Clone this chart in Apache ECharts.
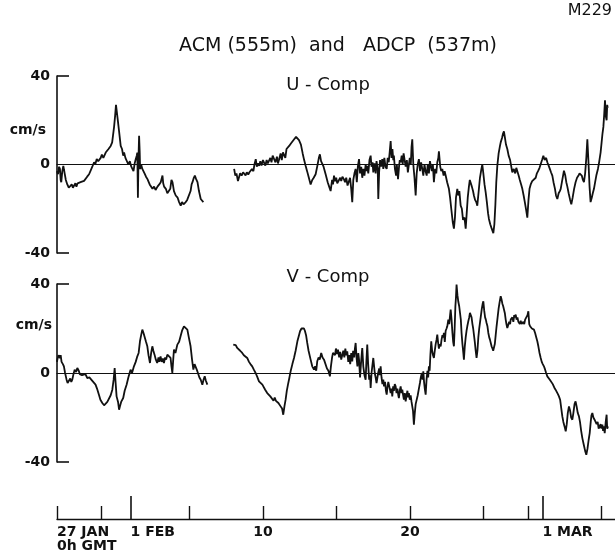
<!DOCTYPE html>
<html>
<head>
<meta charset="utf-8">
<script src="https://cdn.jsdelivr.net/npm/echarts@6/dist/echarts.min.js"></script>
<style>
  html, body { margin: 0; padding: 0; background: #fff; }
  #main { width: 615px; height: 553px; }
</style>
</head>
<body>
<div id="main"></div>
<script>
// time in days after 27 JAN 0h GMT, speed in cm/s
const uPart1 = [[0.0,-3],[0.07,-4.4],[0.14,-1],[0.2,-2],[0.25,-7],[0.29,-8],[0.36,-3],[0.43,-0.6],[0.48,-2.5],[0.52,-4],[0.6,-7],[0.7,-9],[0.8,-10.5],[0.93,-11],[1.0,-9],[1.08,-10.5],[1.16,-9.6],[1.25,-8.5],[1.32,-10],[1.4,-8.5],[1.5,-9],[1.6,-8],[1.7,-8.8],[1.84,-7.4],[1.95,-6.5],[2.05,-5.5],[2.18,-4.4],[2.3,-2.5],[2.4,-1],[2.52,1],[2.6,0],[2.7,2.5],[2.8,1.5],[2.97,3],[3.05,4.5],[3.15,3],[3.31,5.4],[3.4,4.5],[3.5,7],[3.65,8.4],[3.75,10],[3.88,17],[3.95,22],[4.01,27],[4.08,23],[4.15,19],[4.22,15],[4.33,8.4],[4.42,7],[4.5,4],[4.56,5.4],[4.65,3],[4.78,2.4],[4.85,0],[4.95,1.5],[5.05,-1],[5.12,-0.6],[5.2,-3],[5.28,0.5],[5.35,2.4],[5.42,4],[5.46,5.4],[5.5,-15],[5.54,3],[5.58,13],[5.62,6],[5.65,-2],[5.72,0],[5.8,-2],[5.95,-4],[6.05,-5.5],[6.15,-6.6],[6.3,-9],[6.49,-11],[6.6,-10],[6.7,-11.5],[6.83,-10],[6.95,-9],[7.05,-8],[7.17,-5],[7.22,-8.5],[7.28,-10],[7.4,-11],[7.5,-13],[7.62,-13],[7.7,-11],[7.78,-7],[7.85,-8],[7.95,-12],[8.07,-14],[8.2,-15],[8.3,-17],[8.41,-18.6],[8.5,-17],[8.6,-18],[8.75,-17],[8.85,-16],[8.98,-15.6],[9.08,-12],[9.15,-9],[9.21,-8],[9.3,-6],[9.37,-5],[9.45,-6.5],[9.55,-8],[9.65,-12],[9.77,-15.6],[9.85,-15],[9.95,-17]];

const uPart2 = [[12.04,-2],[12.12,-5],[12.2,-4],[12.3,-7.5],[12.38,-7],[12.45,-4],[12.55,-5],[12.65,-3.5],[12.72,-4.4],[12.82,-5],[12.9,-3.5],[13.0,-4.5],[13.08,-3.5],[13.17,-4.4],[13.25,-2],[13.35,-3],[13.42,0],[13.51,2.4],[13.58,-1],[13.66,0.5],[13.74,-0.6],[13.82,1.5],[13.9,-0.5],[14.0,2],[14.08,1.6],[14.16,-0.5],[14.25,2],[14.33,0.5],[14.42,0],[14.5,3],[14.58,1],[14.66,4],[14.76,4],[14.85,1],[14.95,3.5],[15.02,0.5],[15.1,2.4],[15.2,5],[15.28,2],[15.36,5.5],[15.44,4.6],[15.52,3],[15.6,7],[15.7,6.5],[15.78,8.4],[15.9,9.5],[16.0,10],[16.12,11.4],[16.25,12.5],[16.35,13],[16.45,11],[16.58,9],[16.7,5],[16.8,2],[16.9,-0.6],[17.0,-3],[17.12,-6],[17.24,-9],[17.35,-7],[17.45,-6],[17.58,-4.4],[17.7,-0.5],[17.8,3],[17.87,4.6],[17.95,1.5],[18.03,2.4],[18.12,-1],[18.26,-4.4],[18.4,-8],[18.5,-10],[18.6,-12],[18.7,-7],[18.76,-9],[18.83,-5],[18.9,-7.5],[18.98,-6],[19.05,-8.5],[19.17,-8],[19.25,-6],[19.32,-7.5],[19.4,-5.5],[19.5,-6.6],[19.58,-8],[19.66,-6],[19.75,-9.5],[19.85,-9],[19.92,-6],[20.0,-11],[20.07,-17],[20.14,-7],[20.22,-4],[20.3,-2],[20.38,-8],[20.45,-1],[20.53,2.4],[20.6,-4],[20.68,-1],[20.75,-6],[20.82,-2],[20.9,-5],[20.98,0],[21.05,-3],[21.09,-0.6],[21.16,-4],[21.24,2],[21.32,4],[21.38,-1],[21.45,1],[21.5,-3.6],[21.58,0.5],[21.66,-4],[21.72,1.5],[21.8,-2],[21.84,-15.6],[21.9,-3],[21.96,2],[22.03,-1],[22.11,2.4],[22.18,-2],[22.25,3],[22.33,-1],[22.41,-2],[22.48,3],[22.55,1],[22.62,6],[22.68,10.6],[22.74,3],[22.8,7],[22.86,2],[22.9,4],[22.97,-2],[23.05,-5],[23.1,0],[23.18,-6.6],[23.25,-1],[23.3,2],[23.36,1],[23.43,4],[23.5,0],[23.56,5],[23.63,5.4],[23.7,-1],[23.78,2],[23.85,-3.6],[23.92,-3.6],[23.98,3],[24.05,0],[24.1,8],[24.15,11.4],[24.22,0],[24.3,-6],[24.38,-14],[24.45,-4],[24.52,0],[24.6,2.4],[24.68,-3],[24.75,1],[24.83,-2],[24.9,-5],[24.98,0],[25.05,-3],[25.13,-5],[25.2,0],[25.28,-4],[25.35,1.5],[25.4,2.4],[25.48,-3],[25.55,0],[25.62,-8],[25.7,-2],[25.78,-4],[25.85,1],[25.92,3],[25.96,6],[26.05,-1],[26.12,-3],[26.19,-2],[26.28,-5],[26.35,-3],[26.42,-5],[26.52,-8],[26.64,-11],[26.72,-15],[26.8,-20],[26.9,-26],[26.98,-29],[27.05,-24],[27.12,-15],[27.21,-11],[27.28,-14],[27.35,-12],[27.44,-18.6],[27.52,-20],[27.6,-25],[27.7,-24],[27.78,-29],[27.85,-22],[27.92,-15],[28.0,-10],[28.06,-7],[28.12,-6.6],[28.2,-10],[28.28,-12],[28.34,-14],[28.42,-16],[28.5,-17],[28.57,-18.6],[28.65,-13],[28.75,-6],[28.85,-2],[28.91,0],[28.98,-4],[29.06,-9],[29.14,-12.6],[29.22,-17],[29.3,-22],[29.36,-24.6],[29.45,-27],[29.55,-29],[29.66,-31],[29.73,-27],[29.8,-18],[29.86,-8],[29.93,-0.6],[30.02,5],[30.1,8],[30.16,10],[30.25,12],[30.32,14],[30.38,15],[30.45,12],[30.52,9],[30.61,7],[30.7,4],[30.8,2],[30.88,-1],[30.95,-3.6],[31.05,-2],[31.15,-4],[31.22,-1.5],[31.29,-2],[31.38,-5],[31.46,-7],[31.55,-9],[31.63,-11],[31.72,-14],[31.8,-17],[31.9,-21],[31.97,-24],[32.05,-16],[32.12,-11],[32.2,-9],[32.3,-7.5],[32.42,-7],[32.54,-6],[32.62,-4],[32.7,-3],[32.8,-1.5],[32.88,-0.6],[32.97,2],[33.06,4],[33.15,2],[33.25,3],[33.33,1],[33.42,-0.5],[33.5,-2],[33.58,-3.5],[33.67,-5],[33.75,-8],[33.85,-11],[33.92,-14],[34.01,-15.6],[34.1,-13],[34.18,-12],[34.24,-11],[34.32,-8],[34.4,-5],[34.46,-2.8],[34.55,-5],[34.62,-8],[34.69,-10],[34.78,-13],[34.88,-16],[34.96,-18],[35.05,-15],[35.15,-11],[35.25,-8],[35.35,-6],[35.45,-5],[35.52,-4],[35.59,-3.6],[35.67,-5],[35.75,-7],[35.82,-8],[35.9,-4],[35.98,3],[36.05,11.4],[36.12,2],[36.2,-10],[36.27,-17],[36.35,-15],[36.42,-13],[36.5,-11],[36.58,-8],[36.66,-5],[36.77,-2],[36.85,1],[36.95,5.4],[37.02,10],[37.08,14],[37.14,17],[37.2,23],[37.25,29],[37.3,22],[37.36,20],[37.4,27],[37.43,25.6]];

const vPart1 = [[0.0,5],[0.02,6],[0.1,8],[0.2,6.75],[0.25,8],[0.31,5],[0.4,4],[0.47,3],[0.55,0],[0.65,-3],[0.72,-4.5],[0.81,-4.5],[0.9,-2.5],[0.97,-4],[1.04,-3],[1.12,-0.5],[1.2,1.5],[1.3,0.5],[1.38,2.25],[1.48,1],[1.55,-0.5],[1.61,0],[1.7,-1],[1.83,-1.5],[1.93,-0.5],[2.06,-2.25],[2.2,-2],[2.33,-3],[2.45,-3.5],[2.62,-5.25],[2.72,-7],[2.85,-9.75],[2.95,-12],[3.08,-13.5],[3.2,-14.5],[3.3,-14.25],[3.42,-13],[3.53,-12.75],[3.65,-10],[3.76,-7.5],[3.85,-3],[3.92,2.25],[3.98,-4],[4.05,-10.5],[4.15,-13],[4.22,-16.5],[4.28,-15],[4.36,-13],[4.5,-11.25],[4.6,-8],[4.73,-5.25],[4.85,-2],[5.0,1.5],[5.1,0],[5.23,3],[5.35,5],[5.46,7.5],[5.55,9],[5.64,14.25],[5.72,17],[5.8,19.5],[5.88,18],[5.96,17.25],[6.05,14],[6.14,12],[6.22,8],[6.32,4.5],[6.4,9],[6.48,12],[6.55,10],[6.63,8.25],[6.72,6],[6.81,4.5],[6.9,7],[6.96,5],[7.04,7.5],[7.12,5],[7.2,6.5],[7.27,4.5],[7.35,7],[7.42,6],[7.5,8.25],[7.6,7.5],[7.72,6.75],[7.78,3],[7.84,0],[7.9,6],[7.95,10.5],[8.05,9],[8.18,12.75],[8.3,14],[8.4,16.5],[8.5,19],[8.63,21],[8.75,20.5],[8.86,19.5],[8.96,16],[9.08,12],[9.18,6],[9.27,1.5],[9.35,4],[9.43,4.5],[9.5,1.5],[9.58,0],[9.68,-2],[9.77,-3],[9.88,-5.25],[9.96,-3],[10.04,-1.5],[10.12,-3.5],[10.22,-5.25]];

const vPart2 = [[11.98,12.75],[12.08,12],[12.15,12.5],[12.25,11.25],[12.35,10.5],[12.45,10],[12.59,9],[12.7,8],[12.8,7.5],[12.93,6.75],[13.05,5],[13.15,4],[13.27,3],[13.38,1.5],[13.5,0],[13.6,-1.5],[13.73,-3.75],[13.85,-4.5],[13.96,-5.25],[14.05,-6],[14.15,-7.5],[14.29,-9],[14.4,-9.5],[14.5,-10.5],[14.63,-11.25],[14.72,-12.5],[14.8,-11],[14.88,-12.5],[14.97,-12.75],[15.05,-13.5],[15.12,-14],[15.2,-15],[15.3,-16],[15.38,-18.75],[15.46,-15],[15.54,-12],[15.62,-8],[15.7,-5.25],[15.8,-2],[15.88,0.75],[16.0,4],[16.11,6.75],[16.22,10],[16.34,14.25],[16.45,17],[16.52,18.75],[16.62,20],[16.72,20.5],[16.79,20],[16.85,19],[16.93,17],[17.01,13.5],[17.1,10],[17.24,6],[17.35,3],[17.47,1.5],[17.55,3],[17.62,1],[17.69,5.25],[17.78,7],[17.86,6],[17.96,9],[18.05,7],[18.15,6],[18.26,5.25],[18.35,2],[18.45,1],[18.55,-1.5],[18.62,3],[18.7,7],[18.76,9],[18.83,9.75],[18.9,8],[18.96,11],[19.03,8.5],[19.1,10.5],[19.18,7],[19.25,9.5],[19.32,6],[19.39,6.75],[19.46,10],[19.53,7],[19.6,11],[19.66,8],[19.73,9.75],[19.8,5],[19.86,8],[19.93,4],[20.0,9],[20.07,5.25],[20.13,10],[20.2,7],[20.25,11],[20.3,13.5],[20.36,7],[20.42,3],[20.48,9],[20.53,6],[20.6,-2],[20.66,4],[20.72,9],[20.75,11.25],[20.82,3],[20.9,-1],[20.98,-3],[21.03,5],[21.09,12.75],[21.15,4],[21.22,-3],[21.28,-1],[21.32,-6.75],[21.38,0],[21.45,4],[21.5,6.75],[21.55,6.75],[21.6,0],[21.66,-2],[21.72,-4.5],[21.77,-4.5],[21.83,0],[21.9,2],[21.95,-1],[22.0,3],[22.06,-2],[22.12,-5],[22.18,-3],[22.23,-6],[22.3,-4],[22.36,-8],[22.41,-9.75],[22.47,-6],[22.52,-4],[22.56,-4.5],[22.62,-7],[22.68,-9],[22.74,-7],[22.79,-10.5],[22.85,-6],[22.9,-8],[22.96,-5],[23.02,-6],[23.08,-9],[23.14,-7],[23.2,-10],[23.24,-11.25],[23.3,-8],[23.36,-6],[23.42,-9],[23.47,-7.5],[23.53,-10],[23.58,-12],[23.64,-9],[23.7,-12.75],[23.76,-10],[23.82,-8],[23.87,-11],[23.92,-9],[23.98,-12],[24.04,-10],[24.1,-13],[24.15,-13.5],[24.2,-17],[24.26,-23.25],[24.32,-18],[24.38,-14],[24.45,-13.5],[24.52,-10],[24.6,-7],[24.67,-4.5],[24.73,-2],[24.8,0],[24.85,-3],[24.9,0.75],[24.95,-4],[25.0,-7],[25.06,-9.75],[25.12,-3],[25.18,1],[25.23,-2],[25.28,3],[25.33,1],[25.38,8],[25.44,14.25],[25.5,10],[25.56,8],[25.62,6.75],[25.68,10],[25.74,13],[25.8,15],[25.85,17.25],[25.9,14],[25.96,11],[26.02,13],[26.08,12],[26.14,15],[26.2,17],[26.25,16],[26.3,18],[26.36,14],[26.42,19],[26.48,20],[26.53,21],[26.6,24],[26.66,22],[26.72,26],[26.76,28.5],[26.82,24],[26.88,18],[26.93,14],[26.98,12],[27.03,20],[27.08,30],[27.12,34],[27.16,39.75],[27.22,35],[27.28,32],[27.34,30],[27.39,30],[27.45,24],[27.5,18],[27.56,13],[27.62,9],[27.66,6],[27.72,12],[27.78,16],[27.84,19],[27.89,21],[27.95,23],[28.02,25],[28.07,27],[28.12,27.75],[28.18,25],[28.24,22],[28.29,20],[28.34,19.5],[28.4,14],[28.46,10],[28.52,6.75],[28.58,10],[28.64,16],[28.7,20],[28.75,22.5],[28.82,26],[28.88,29],[28.93,31],[28.98,32.25],[29.04,28],[29.1,25],[29.15,24],[29.2,22.5],[29.26,21],[29.32,18],[29.38,16],[29.43,15],[29.48,14.25],[29.54,12],[29.6,11],[29.65,10],[29.7,9.75],[29.76,13],[29.82,17],[29.88,21],[29.95,25],[30.02,29],[30.09,32],[30.16,34.5],[30.22,33],[30.28,31],[30.33,30],[30.38,29.25],[30.44,27],[30.5,24],[30.55,22],[30.61,20.25],[30.68,21],[30.74,23],[30.8,22],[30.84,24],[30.88,24],[30.95,25],[31.02,23],[31.08,26],[31.13,25],[31.18,26.25],[31.24,24],[31.3,25],[31.36,23],[31.4,23.25],[31.46,22],[31.52,23.5],[31.58,22],[31.63,22.5],[31.7,23],[31.76,22],[31.82,24],[31.86,23.25],[31.92,24.5],[31.98,26],[32.04,27.75],[32.1,22],[32.16,21],[32.2,20.25],[32.28,20],[32.35,20.5],[32.42,19.5],[32.5,18],[32.58,16],[32.65,14.25],[32.72,12],[32.8,9],[32.88,6.75],[32.95,5],[33.02,4],[33.1,3],[33.18,1.5],[33.25,0],[33.33,-1.5],[33.42,-2],[33.5,-3],[33.6,-3.75],[33.7,-5],[33.8,-6.5],[33.89,-7.5],[33.98,-8],[34.05,-9.5],[34.12,-10.5],[34.2,-12],[34.28,-16],[34.35,-19.5],[34.42,-22],[34.5,-24],[34.58,-26.25],[34.65,-23],[34.72,-18],[34.8,-15],[34.88,-17],[34.95,-20],[35.03,-21],[35.1,-18],[35.18,-14],[35.25,-12.75],[35.32,-15],[35.4,-18],[35.48,-19.5],[35.55,-22],[35.63,-26],[35.71,-29.25],[35.8,-32],[35.9,-35],[35.98,-36.75],[36.06,-34],[36.14,-30],[36.21,-27],[36.28,-22],[36.33,-19],[36.39,-18],[36.46,-20],[36.54,-21],[36.61,-21.75],[36.68,-23],[36.75,-22],[36.82,-25],[36.89,-24.75],[36.95,-23],[37.01,-25],[37.07,-23.25],[37.12,-26],[37.18,-24],[37.23,-27],[37.3,-22],[37.36,-18.75],[37.4,-25],[37.45,-24]];

// date axis ticks (days after 27 Jan 0h)
const shortTickDays = [0, 3, 9, 14, 19, 24, 29, 32, 37];
const longTickDays = [5, 33];
const sideLabelDays = [0, 5, 33];
const sideLabels = ['27 JAN\n0h GMT', '1 FEB', '1 MAR'];
const midLabelDays = [14, 24];
const midLabels = ['10', '20'];
const speedTicks = [-40, 40];
const speedLabels = [-40, 0, 40];

const dayMax = 37.93;
const font = 'DejaVu Sans';
const ink = '#111';

const chart = echarts.init(document.getElementById('main'));

const panelX = (gi) => ({
    gridIndex: gi, type: 'value', min: 0, max: dayMax,
    axisLine: {show: true, onZero: true, lineStyle: {color: ink, width: 1.2}},
    axisTick: {show: false}, axisLabel: {show: false}, splitLine: {show: false}
});

const panelY = (gi) => ({
    gridIndex: gi, type: 'value', min: -40, max: 40,
    axisLine: {show: true, onZero: false, lineStyle: {color: ink, width: 1.6}},
    axisTick: {show: true, inside: true, length: 12, customValues: speedTicks, lineStyle: {color: ink, width: 1.6}},
    axisLabel: {customValues: speedLabels, margin: 7, color: ink, fontFamily: font, fontWeight: 'bold', fontSize: 14},
    splitLine: {show: false}
});

const trace = (data, gi) => ({
    type: 'line', xAxisIndex: gi, yAxisIndex: gi, data: data,
    showSymbol: false, silent: true, animation: false,
    lineStyle: {color: ink, width: 1.8}
});

const txt = (text, x, y, size, weight, align) => ({
    type: 'text', x: x, y: y, silent: true,
    style: {text: text, fill: ink, font: weight + ' ' + size + 'px "' + font + '"',
        align: align, verticalAlign: 'middle', textAlign: align, textVerticalAlign: 'middle'}
});

chart.setOption({
    animation: false,
    backgroundColor: '#fff',
    grid: [
        {left: 57, right: 0, top: 76, height: 177},
        {left: 57, right: 0, top: 284, height: 178},
        {left: 57, right: 0, top: 501, height: 20}
    ],
    xAxis: [
        panelX(0),
        panelX(1),
        {
            gridIndex: 2, type: 'value', min: 0, max: dayMax, position: 'bottom',
            axisLine: {show: true, onZero: false, lineStyle: {color: ink, width: 1.4}},
            axisTick: {show: true, inside: true, length: 13, customValues: shortTickDays, lineStyle: {color: ink, width: 1.4}},
            axisLabel: {
                customValues: midLabelDays, margin: 6, color: ink, fontFamily: font, fontWeight: 'bold', fontSize: 14,
                formatter: v => midLabels[midLabelDays.indexOf(v)]
            },
            splitLine: {show: false}
        },
        {
            gridIndex: 2, type: 'value', min: 0, max: dayMax, position: 'bottom', offset: 0,
            axisLine: {show: false, onZero: false},
            axisTick: {show: true, inside: true, length: 23, customValues: longTickDays, lineStyle: {color: ink, width: 1.6}},
            axisLabel: {
                customValues: sideLabelDays, margin: 6, align: 'left', lineHeight: 14,
                color: ink, fontFamily: font, fontWeight: 'bold', fontSize: 14,
                formatter: v => sideLabels[sideLabelDays.indexOf(v)]
            },
            splitLine: {show: false}
        }
    ],
    yAxis: [
        panelY(0),
        panelY(1),
        {gridIndex: 2, type: 'value', show: false}
    ],
    series: [
        trace(uPart1, 0),
        trace(uPart2, 0),
        trace(vPart1, 1),
        trace(vPart2, 1)
    ],
    graphic: [
        txt('M229', 612, 11, 16, 'normal', 'right'),
        txt('ACM (555m)  and   ADCP  (537m)', 338, 46, 19, 'normal', 'center'),
        txt('U - Comp', 328, 85, 18, 'normal', 'center'),
        txt('V - Comp', 328, 277, 18, 'normal', 'center'),
        txt('cm/s', 46, 130, 14, 'bold', 'right'),
        txt('cm/s', 52, 325, 14, 'bold', 'right')
    ]
});
</script>
</body>
</html>
